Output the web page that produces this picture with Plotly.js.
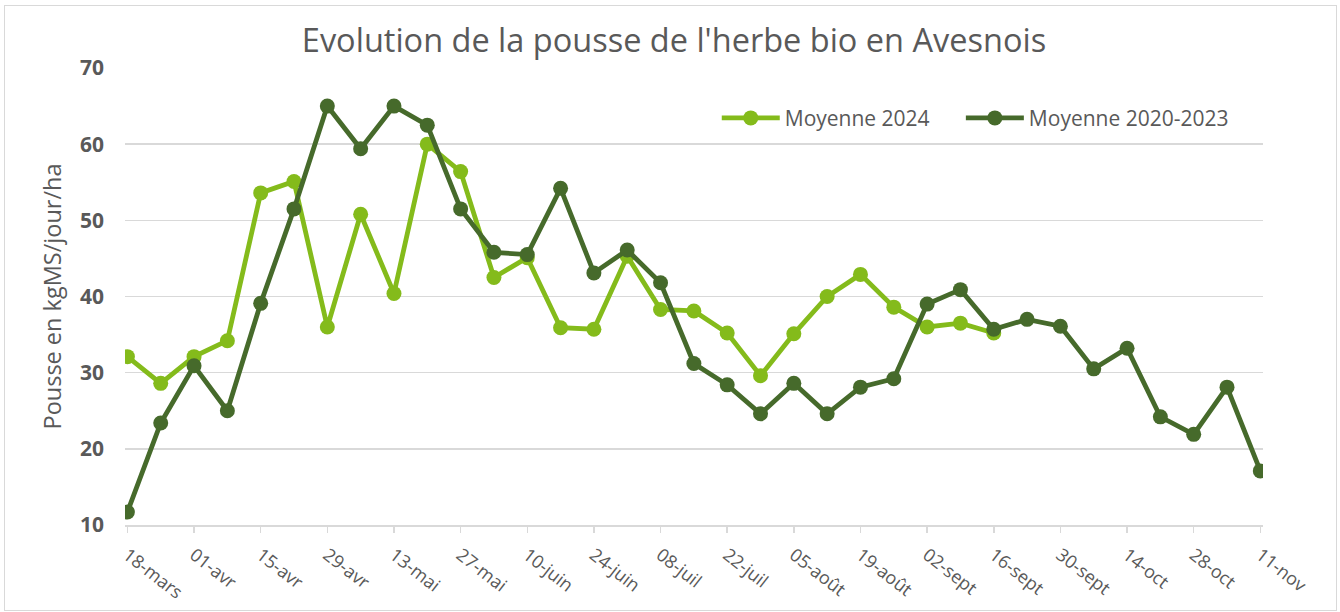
<!DOCTYPE html>
<html>
<head>
<meta charset="utf-8">
<script src="https://cdn.plot.ly/plotly-3.0.1.min.js"></script>
<style>
  html, body { margin: 0; padding: 0; background: #ffffff; }
  #chart { position: absolute; left: 0; top: 0; width: 1340px; height: 612px; }
  #frame { position: absolute; left: 4px; top: 5px; width: 1331px; height: 604px; border: 1.5px solid #d9d9d9; pointer-events: none; }
</style>
</head>
<body>
<div id="chart"></div>
<div id="frame"></div>
<script>
const weeks = ["18-mars","25-mars","01-avr","08-avr","15-avr","22-avr","29-avr","06-mai","13-mai","20-mai",
  "27-mai","03-juin","10-juin","17-juin","24-juin","01-juil","08-juil","15-juil","22-juil","29-juil",
  "05-août","12-août","19-août","26-août","02-sept","09-sept","16-sept","23-sept","30-sept","07-oct",
  "14-oct","21-oct","28-oct","04-nov","11-nov"];

const moyenne2024 = [32.1,28.6,32.1,34.2,53.6,55.1,36.0,50.8,40.4,60.0,
  56.4,42.5,45.1,35.9,35.7,45.3,38.3,38.1,35.2,29.6,
  35.1,40.0,42.9,38.6,36.0,36.5,35.2,null,null,null,
  null,null,null,null,null];

const moyenne2020_2023 = [11.7,23.4,30.9,25.0,39.1,51.5,65.0,59.4,65.0,62.5,
  51.5,45.8,45.5,54.2,43.1,46.1,41.8,31.2,28.4,24.6,
  28.6,24.6,28.1,29.2,39.0,40.9,35.7,37.0,36.1,30.5,
  33.2,24.2,21.9,28.1,17.1];

const tickLabels = weeks.filter((w, i) => i % 2 === 0);

const titleText = "Evolution de la pousse de l'herbe bio en Avesnois";
const yTitle = "Pousse en kgMS/jour/ha";
const seriesNames = ["Moyenne 2024", "Moyenne 2020-2023"];

const lightGreen = "#84bb1b";
const darkGreen = "#466a2b";
const grey = "#595959";
const FONT = "Open Sans, DejaVu Sans, sans-serif";

const traces = [
  {
    x: weeks, y: moyenne2024, name: seriesNames[0], type: "scatter", mode: "lines+markers",
    line: { color: lightGreen, width: 4.8 }, marker: { color: lightGreen, size: 15 },
    connectgaps: false, legend: "legend"
  },
  {
    x: weeks, y: moyenne2020_2023, name: seriesNames[1], type: "scatter", mode: "lines+markers",
    line: { color: darkGreen, width: 4.8 }, marker: { color: darkGreen, size: 15 },
    legend: "legend2"
  }
];

const legendCommon = {
  orientation: "h", xanchor: "left", y: 0.89, yanchor: "middle",
  font: { family: FONT, size: 21, color: grey }, bgcolor: "rgba(0,0,0,0)",
  itemwidth: 58
};

const layout = {
  width: 1340, height: 612,
  margin: { l: 125, r: 77, t: 68, b: 87 },
  paper_bgcolor: "rgba(0,0,0,0)", plot_bgcolor: "#ffffff",
  font: { family: FONT, color: grey },
  showlegend: true,
  title: {
    text: titleText, font: { family: FONT, size: 32.5, color: grey },
    x: 0.503, xanchor: "center", y: 0.933, yanchor: "middle", yref: "container"
  },
  xaxis: {
    type: "category", range: [-0.072, 34.08],
    tickmode: "array", tickvals: tickLabels, ticktext: tickLabels,
    tickangle: 38, tickfont: { family: FONT, size: 18, color: grey },
    ticks: "outside", ticklen: 6, tickcolor: "#d9d9d9", tickwidth: 1.5,
    showline: true, linecolor: "#d9d9d9", linewidth: 1.5,
    showgrid: false, zeroline: false, ticklabelstandoff: 5
  },
  yaxis: {
    range: [10, 70], dtick: 10, tick0: 10,
    tickfont: { family: FONT, size: 21, color: grey, weight: "bold" },
    showgrid: true, gridcolor: "#d9d9d9", gridwidth: 1.5,
    zeroline: false, showline: false, ticks: "", ticklabelstandoff: 20,
    title: { text: yTitle, font: { family: FONT, size: 23.5, color: grey }, standoff: 11 }
  },
  legend: Object.assign({}, legendCommon, { x: 0.52 }),
  legend2: Object.assign({}, legendCommon, { x: 0.7345 })
};

Plotly.newPlot("chart", traces, layout, { displayModeBar: false, staticPlot: true });
</script>
</body>
</html>
